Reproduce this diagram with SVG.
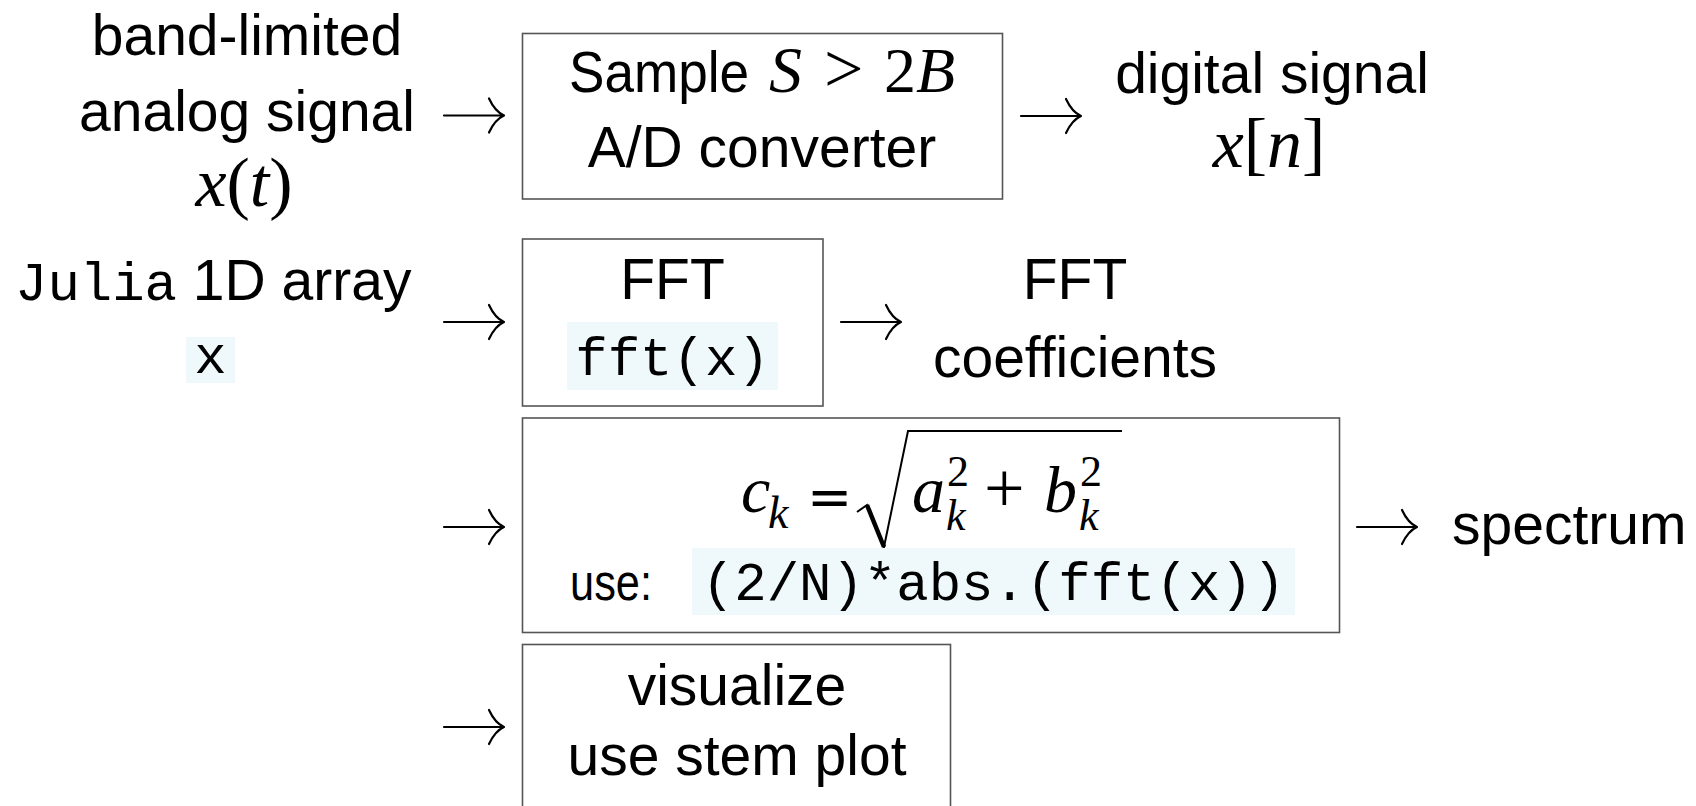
<svg xmlns="http://www.w3.org/2000/svg" width="1696" height="806" viewBox="0 0 1696 806">
<defs>
<style>
.t{font-family:"Liberation Sans",Arial,sans-serif;font-size:57px;fill:#000}
.m{font-family:"Liberation Serif","Times New Roman",serif;font-size:66px;fill:#000}
.op{font-family:"DejaVu Sans",sans-serif;fill:#000}
.i{font-style:italic}
.tt{font-family:"Liberation Mono","Courier New",monospace;font-size:54px;fill:#000}
.box{fill:#fff;stroke:#555;stroke-width:1.6}
.hl{fill:#eff9fc}
.arr{fill:none;stroke:#000;stroke-width:2.2;stroke-linecap:round;stroke-linejoin:round}
.c{text-anchor:middle}
</style>
<path id="arw" class="arr" d="M0 0 H59 M45 -17 Q51 -4 60 0 Q51 4 45 17"/>
</defs>
<rect width="1696" height="806" fill="#fff"/>

<g id="connectors">
<use href="#arw" x="444" y="115.5"/>
<use href="#arw" x="1021" y="116"/>
<use href="#arw" x="444" y="322"/>
<use href="#arw" x="841" y="322"/>
<use href="#arw" x="444" y="527"/>
<use href="#arw" x="1357" y="527"/>
<use href="#arw" x="444" y="727"/>
</g>

<g id="n-analog">
<text class="t c" x="247" y="55">band-limited</text>
<text class="t c" x="247" y="131">analog signal</text>
<text class="m c" x="244" y="206" style="font-size:70px"><tspan class="i">x</tspan>(<tspan class="i">t</tspan>)</text>
</g>

<g id="n-sample">
<rect class="box" x="522.5" y="33.5" width="480" height="165.5"/>
<text class="t" x="569" y="92" textLength="180" lengthAdjust="spacingAndGlyphs">Sample</text>
<text class="m i" x="769" y="92">S</text>
<text class="m" x="824" y="92" style="font-size:70px">&gt;</text>
<text class="m" x="884" y="92" style="font-size:64px">2<tspan class="i">B</tspan></text>
<text class="t c" x="762" y="167">A/D converter</text>
</g>

<g id="n-digital">
<text class="t c" x="1272" y="93">digital signal</text>
<text class="m c" x="1269" y="167" style="font-size:70px"><tspan class="i">x</tspan>[<tspan class="i">n</tspan>]</text>
</g>

<g id="n-julia">
<text x="15" y="300"><tspan class="tt">Julia</tspan><tspan class="t"> 1D array</tspan></text>
<rect class="hl" x="186" y="337" width="49" height="46"/>
<text class="tt c" x="210.5" y="373">x</text>
</g>

<g id="n-fft">
<rect class="box" x="522.5" y="239" width="300.5" height="167"/>
<text class="t c" x="672.5" y="299">FFT</text>
<rect class="hl" x="567" y="322" width="211" height="68"/>
<text class="tt c" x="672.5" y="375">fft(x)</text>
</g>

<g id="n-coef">
<text class="t c" x="1075" y="299">FFT</text>
<text class="t c" x="1075" y="377">coefficients</text>
</g>

<g id="n-magnitude">
<rect class="box" x="522.5" y="418" width="817" height="214.5"/>
<text class="m i" x="741" y="512">c</text>
<text class="m i" x="768" y="528" style="font-size:46px">k</text>
<text class="op" x="807" y="515" style="font-size:54px">=</text>
<path d="M857 512 L867 505 L884 547 L908 431 H1122" fill="none" stroke="#000" stroke-width="2"/>
<path d="M867 505 L884 547" fill="none" stroke="#000" stroke-width="4.5"/>
<text class="m i" x="912" y="512">a</text>
<text class="m" x="947" y="486" style="font-size:44px">2</text>
<text class="m i" x="946" y="530" style="font-size:44px">k</text>
<text class="m" x="984" y="512" style="font-size:72px">+</text>
<text class="m i" x="1044" y="512">b</text>
<text class="m" x="1080" y="486" style="font-size:44px">2</text>
<text class="m i" x="1079" y="530" style="font-size:44px">k</text>
<text class="t" x="570" y="600" style="font-size:52px" textLength="82" lengthAdjust="spacingAndGlyphs">use:</text>
<rect class="hl" x="692" y="548" width="603" height="67"/>
<text class="tt c" x="993.5" y="600">(2/N)*abs.(fft(x))</text>
</g>

<g id="n-spectrum">
<text class="t" x="1452" y="544">spectrum</text>
</g>

<g id="n-visualize">
<rect class="box" x="522.5" y="644.5" width="428" height="200"/>
<text class="t c" x="737" y="705">visualize</text>
<text class="t c" x="737" y="775">use stem plot</text>
</g>
</svg>
